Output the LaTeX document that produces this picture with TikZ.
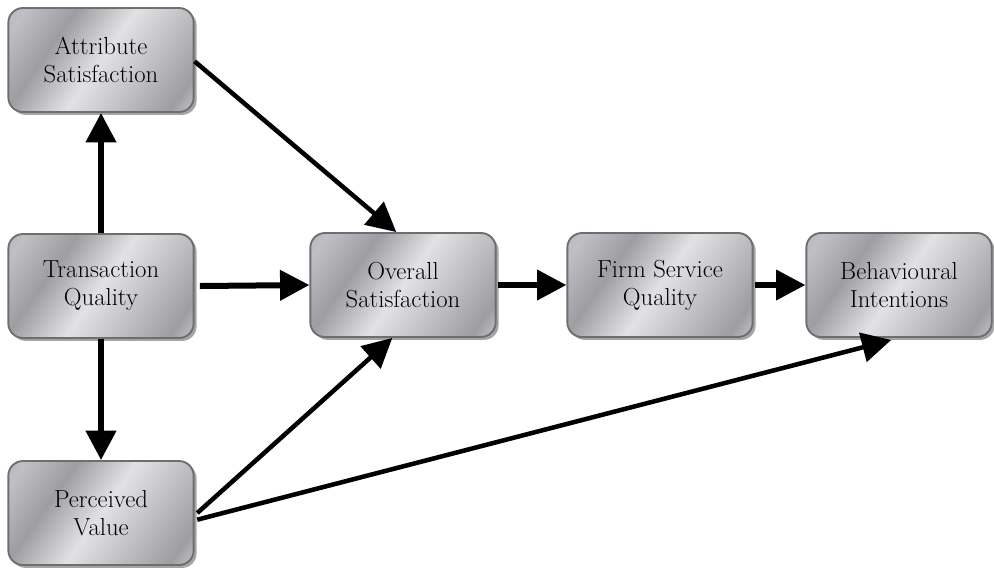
\documentclass[tikz,border=0pt]{standalone}
\usetikzlibrary{arrows.meta,shadows}

\definecolor{metalDark}{RGB}{158,158,162}
\definecolor{metalMid}{RGB}{192,192,196}
\definecolor{metalLight}{RGB}{226,226,229}
\definecolor{edgeGray}{RGB}{110,110,113}
\definecolor{shadowGray}{RGB}{165,165,168}

% brushed-metal fill for the boxes
\pgfdeclarehorizontalshading{metal}{100bp}{%
  color(0bp)=(metalDark);
  color(20bp)=(metalMid);
  color(34bp)=(metalDark);
  color(50bp)=(metalLight);
  color(64bp)=(metalMid);
  color(78bp)=(metalDark);
  color(90bp)=(metalLight);
  color(100bp)=(metalMid)}

\tikzset{
  box/.style={
    draw=edgeGray, line width=1.4pt, rounded corners=11pt,
    shading=metal, shading angle=-35,
    minimum width=139pt, minimum height=78pt,
    align=center, inner sep=2pt,
    font=\rmfamily\fontsize{18.5}{21}\selectfont,
    drop shadow={shadow xshift=2.2pt, shadow yshift=-2.2pt,
                 fill=shadowGray, opacity=1}
  },
  thickarrow/.style={line width=4.5pt, -{Triangle[length=22pt,width=22pt]}},
  thinarrow/.style={line width=3.4pt, -{Triangle[length=22pt,width=22pt]}}
}

\begin{document}
\begin{tikzpicture}[x=0.75pt,y=-0.75pt]
  \useasboundingbox (0,0) rectangle (994,569);

  \node[box] (AS)  at (101,60)  {Attribute\\Satisfaction};
  \node[box] (TQ)  at (101,286) {Transaction\\Quality};
  \node[box] (PV)  at (101,513) {Perceived\\Value};
  \node[box] (OS)  at (403,285) {Overall\\Satisfaction};
  \node[box] (FSQ) at (660,285) {Firm Service\\Quality};
  \node[box] (BI)  at (899,285) {Behavioural\\Intentions};

  \draw[thickarrow] (TQ.north) -- (AS.south);
  \draw[thickarrow] (TQ.south) -- (PV.north);
  \draw[thickarrow] ([xshift=4pt]TQ.east) -- (OS.west);
  \draw[thickarrow] ([xshift=1pt]OS.east) -- (FSQ.west);
  \draw[thickarrow] ([xshift=1pt]FSQ.east) -- (BI.west);

  \draw[thinarrow] ([yshift=-1pt]AS.east) -- ([xshift=-5pt]OS.north);
  \draw[thinarrow] ([xshift=2pt]PV.east) -- ([xshift=-8pt]OS.south);
  \draw[thinarrow, shorten >=6pt] ([xshift=2pt,yshift=-5pt]PV.east) -- (BI.south);
\end{tikzpicture}
\end{document}
